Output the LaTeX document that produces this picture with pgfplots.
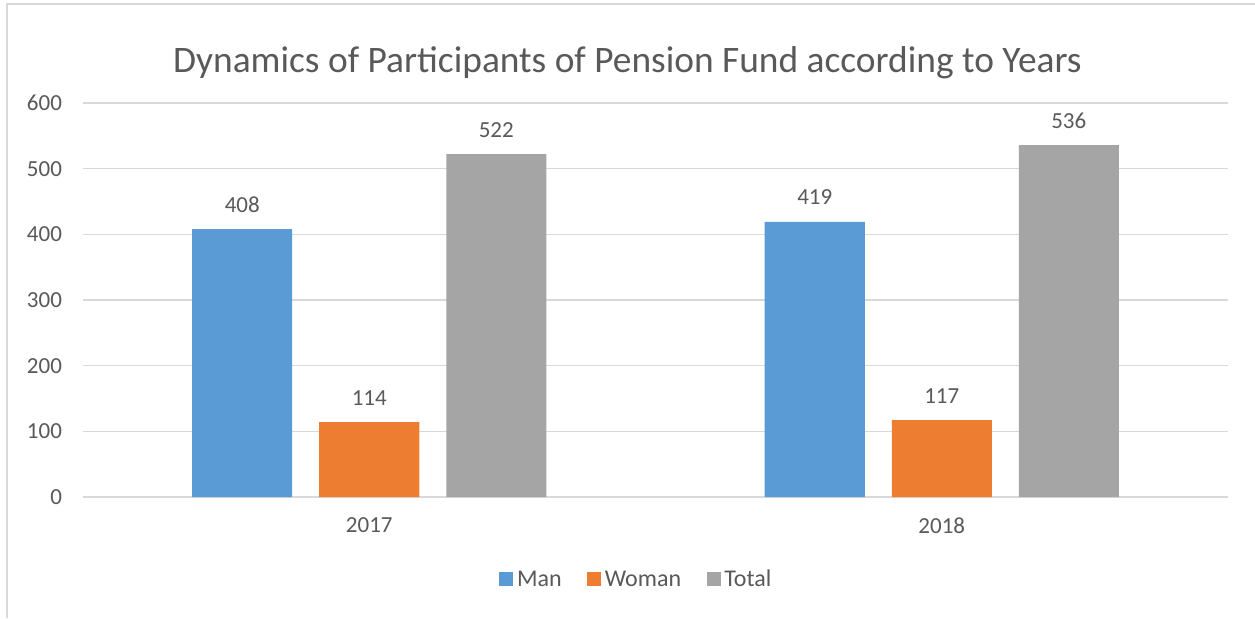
\documentclass[border=0pt]{standalone}
\usepackage{pgfplots}
\pgfplotsset{compat=1.18}
\usepackage{fontspec}
\setmainfont{Carlito}
\definecolor{cman}{HTML}{5B9BD5}
\definecolor{cwoman}{HTML}{ED7D31}
\definecolor{ctotal}{HTML}{A5A5A5}
\definecolor{cgrid}{HTML}{D9D9D9}
\definecolor{ctext}{HTML}{595959}
\begin{document}
\begin{tikzpicture}
\path[use as bounding box] (-41.5pt,-60.5pt) rectangle (586pt,248.5pt);
\draw[color=cgrid, line width=1pt] (-38pt,-60.5pt) -- (-38pt,246.5pt) -- (586pt,246.5pt);
\node[font=\fontsize{18.7}{22}\selectfont, text=ctext] at (272.25pt,217pt) {Dynamics of Participants of Pension Fund according to Years};
\begin{axis}[
  at={(0pt,0pt)}, anchor=south west,
  width=572.5pt, height=197pt, scale only axis,
  xmin=-0.5, xmax=1.5, ymin=0, ymax=600,
  ytick={0,100,...,600}, xtick={0,1}, xticklabels={2017,2018},
  ybar=13.5pt, bar width=50pt,
  axis line style={draw=none},
  major tick length=0pt,
  ymajorgrids, grid style={color=cgrid, line width=0.75pt},
  /pgf/number format/assume math mode=true,
  tick label style={font=\fontsize{11.5}{13}\selectfont, text=ctext},
  yticklabel style={xshift=-7pt},
  xticklabel style={yshift=-7pt},
  nodes near coords,
  every node near coord/.append style={font=\fontsize{11.5}{13}\selectfont, text=ctext, anchor=base, yshift=8.5pt},
  legend style={at={(0.484,-0.2107)}, anchor=center, draw=none, legend columns=3,
    font=\fontsize{12}{14}\selectfont, text=ctext,
    /tikz/every even column/.append style={column sep=11pt},
    nodes={inner sep=1.8pt}},
  legend image code/.code={\fill[#1, draw=none] (0pt,-3pt) rectangle (7pt,4pt);},
]
\addplot[fill=cman, draw=none] coordinates {(0,408) (1,419)};
\addplot[fill=cwoman, draw=none] coordinates {(0,114) (1,117)};
\addplot[fill=ctotal, draw=none] coordinates {(0,522) (1,536)};
\legend{Man,Woman,Total}
\end{axis}
\end{tikzpicture}
\end{document}
